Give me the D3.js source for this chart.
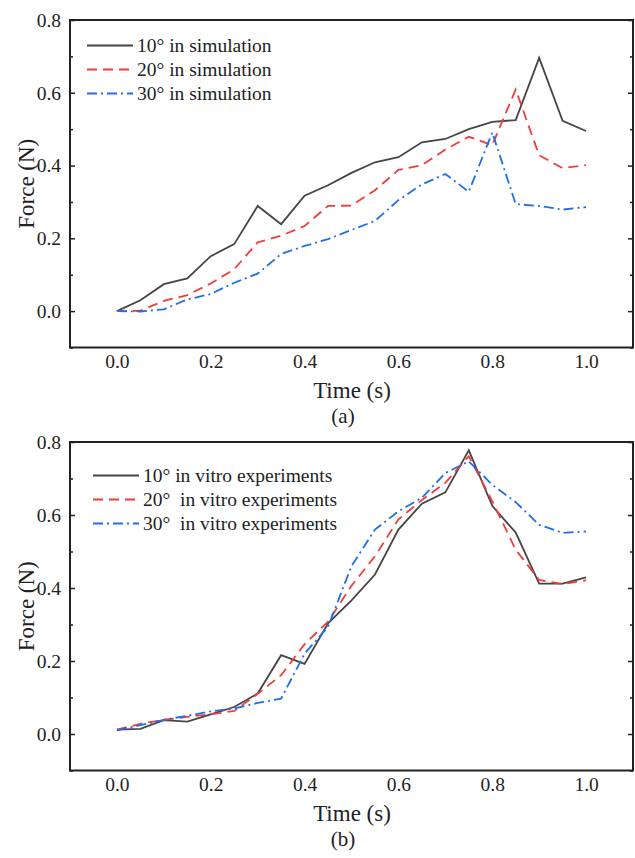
<!DOCTYPE html>
<html>
<head>
<meta charset="utf-8">
<script src="https://cdn.jsdelivr.net/npm/d3@7"></script>
<style>
  body { margin: 0; background: #fff; }
  svg text { font-family: "Liberation Serif", "Times New Roman", serif; fill: #222; }
</style>
</head>
<body>
<svg id="chart" width="635" height="858"></svg>
<script>
const times = [0, 0.05, 0.1, 0.15, 0.2, 0.25, 0.3, 0.35, 0.4, 0.45, 0.5, 0.55, 0.6, 0.65, 0.7, 0.75, 0.8, 0.85, 0.9, 0.95, 1.0];
const xTicks = [0.0, 0.2, 0.4, 0.6, 0.8, 1.0];
const yTicks = [0.0, 0.2, 0.4, 0.6, 0.8];
const yMinorTicks = [-0.1, 0.1, 0.3, 0.5, 0.7];

// (a) simulation
const sim10 = [0, 0.030, 0.074, 0.090, 0.151, 0.184, 0.289, 0.239, 0.317, 0.346, 0.380, 0.409, 0.423, 0.464, 0.473, 0.500, 0.520, 0.525, 0.696, 0.523, 0.495];
const sim20 = [0, 0.001, 0.028, 0.044, 0.076, 0.115, 0.189, 0.207, 0.234, 0.289, 0.290, 0.332, 0.388, 0.401, 0.444, 0.479, 0.456, 0.609, 0.428, 0.393, 0.401];
const sim30 = [0, -0.001, 0.005, 0.032, 0.047, 0.078, 0.103, 0.157, 0.179, 0.198, 0.223, 0.248, 0.305, 0.348, 0.377, 0.328, 0.491, 0.294, 0.289, 0.279, 0.286];

// (b) in vitro experiments
const vit10 = [0.012, 0.014, 0.038, 0.034, 0.054, 0.074, 0.111, 0.216, 0.192, 0.303, 0.366, 0.437, 0.560, 0.631, 0.662, 0.777, 0.625, 0.552, 0.412, 0.412, 0.429];
const vit20 = [0.012, 0.028, 0.039, 0.047, 0.054, 0.063, 0.110, 0.161, 0.246, 0.308, 0.406, 0.487, 0.588, 0.641, 0.688, 0.761, 0.638, 0.505, 0.422, 0.411, 0.421];
const vit30 = [0.010, 0.024, 0.039, 0.050, 0.062, 0.070, 0.085, 0.097, 0.220, 0.294, 0.460, 0.560, 0.610, 0.647, 0.715, 0.747, 0.683, 0.635, 0.573, 0.551, 0.555];

const labelsA = ["10° in simulation", "20° in simulation", "30° in simulation"];
const labelsB = ["10° in vitro experiments", "20°  in vitro experiments", "30°  in vitro experiments"];

const colors = ["#454545", "#ef3d3d", "#1f6fe5"];
const dashes = [null, "10,6", "10,4,2,4"];

const svg = d3.select("#chart");

function panel(cfg) {
  const x = d3.scaleLinear().domain([-0.1, 1.1]).range([70, 633]);
  const y = d3.scaleLinear().domain([-0.1, 0.8]).range([cfg.bottom, cfg.top]);
  const g = svg.append("g");

  // series
  const line = d3.line().x((d, i) => x(times[i])).y(d => y(d));
  cfg.series.forEach((s, k) => {
    g.append("path").datum(s)
      .attr("d", line)
      .attr("fill", "none")
      .attr("stroke", colors[k])
      .attr("stroke-width", 1.8)
      .attr("stroke-linejoin", "miter")
      .attr("stroke-dasharray", dashes[k]);
  });

  // left axis (ticks inward)
  const left = g.append("g").attr("transform", `translate(${x(-0.1)},0)`)
    .call(d3.axisLeft(y).tickValues(yTicks).tickFormat(d3.format(".1f")).tickSize(-5).tickPadding(9));
  left.select(".domain").remove();
  left.selectAll("text").attr("font-size", 19.5).attr("fill", "#222");
  left.selectAll("line").attr("stroke", "#222").attr("stroke-width", 1.5);
  const leftMinor = g.append("g").attr("transform", `translate(${x(-0.1)},0)`)
    .call(d3.axisLeft(y).tickValues(yMinorTicks).tickFormat("").tickSize(-3));
  leftMinor.select(".domain").remove();
  leftMinor.selectAll("line").attr("stroke", "#222").attr("stroke-width", 1.5);

  // right axis (ticks inward)
  const right = g.append("g").attr("transform", `translate(${x(1.1)},0)`)
    .call(d3.axisRight(y).tickValues(yTicks).tickFormat("").tickSize(-5));
  right.select(".domain").remove();
  right.selectAll("line").attr("stroke", "#222").attr("stroke-width", 1.5);
  const rightMinor = g.append("g").attr("transform", `translate(${x(1.1)},0)`)
    .call(d3.axisRight(y).tickValues(yMinorTicks).tickFormat("").tickSize(-3));
  rightMinor.select(".domain").remove();
  rightMinor.selectAll("line").attr("stroke", "#222").attr("stroke-width", 1.5);

  // bottom axis labels
  const bottom = g.append("g").attr("transform", `translate(0,${y(-0.1)})`)
    .call(d3.axisBottom(x).tickValues(xTicks).tickFormat(d3.format(".1f")).tickSize(0).tickPadding(7));
  bottom.select(".domain").remove();
  bottom.selectAll("text").attr("font-size", 19.5).attr("fill", "#222");

  // frame
  g.append("rect")
    .attr("x", x(-0.1)).attr("y", y(0.8))
    .attr("width", x(1.1) - x(-0.1)).attr("height", y(-0.1) - y(0.8))
    .attr("fill", "none").attr("stroke", "#222").attr("stroke-width", 2);

  // axis titles
  g.append("text")
    .attr("transform", `translate(34,${(cfg.top + cfg.bottom) / 2}) rotate(-90)`)
    .attr("text-anchor", "middle").attr("font-size", 23)
    .text("Force (N)");
  g.append("text")
    .attr("x", 352).attr("y", cfg.bottom + 50.5)
    .attr("text-anchor", "middle").attr("font-size", 23)
    .text("Time (s)");
  g.append("text")
    .attr("x", 343).attr("y", cfg.bottom + 75)
    .attr("text-anchor", "middle").attr("font-size", 21)
    .text(cfg.tag);

  // legend
  cfg.labels.forEach((lab, k) => {
    const ly = cfg.legY + k * 24;
    g.append("line")
      .attr("x1", cfg.legX).attr("x2", cfg.legX + 46)
      .attr("y1", ly).attr("y2", ly)
      .attr("stroke", colors[k]).attr("stroke-width", 1.8)
      .attr("stroke-dasharray", dashes[k]);
    g.append("text")
      .attr("x", cfg.legX + 50).attr("y", ly + 6.5)
      .attr("font-size", 19.5)
      .style("white-space", "pre")
      .attr("xml:space", "preserve")
      .text(lab);
  });
}

panel({ top: 20, bottom: 347.5, series: [sim10, sim20, sim30], labels: labelsA, tag: "(a)", legX: 87, legY: 45.5 });
panel({ top: 442, bottom: 770.5, series: [vit10, vit20, vit30], labels: labelsB, tag: "(b)", legX: 93, legY: 475.5 });
</script>
</body>
</html>
